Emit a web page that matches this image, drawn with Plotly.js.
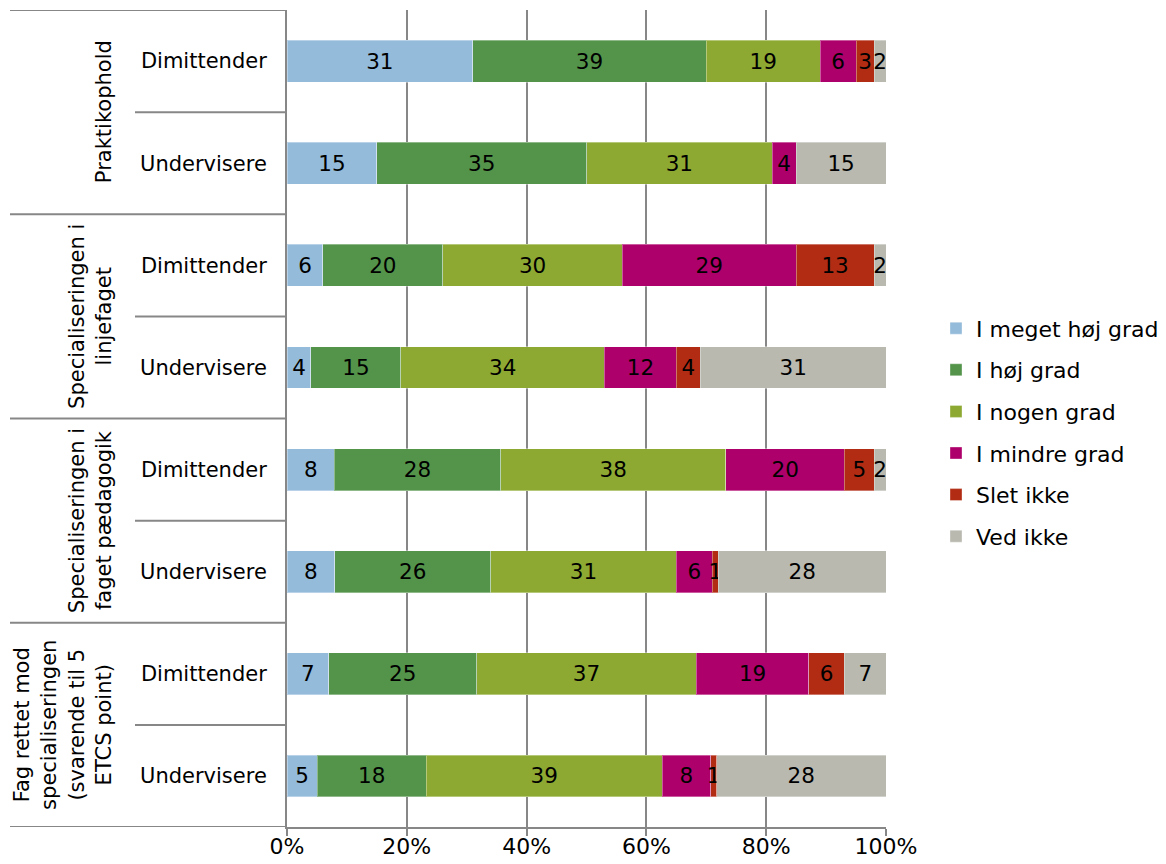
<!DOCTYPE html>
<html>
<head>
<meta charset="utf-8">
<script src="https://cdn.plot.ly/plotly-3.0.1.min.js"></script>
<style>
  html, body { margin: 0; padding: 0; background: #fff; }
  #chart { width: 1166px; height: 864px; }
</style>
</head>
<body>
<div id="chart"></div>
<script>
// bars top to bottom
const groups = ["Praktikophold", "Specialiseringen i<br>linjefaget",
  "Specialiseringen i<br>faget pædagogik",
  "Fag rettet mod<br>specialiseringen<br>(svarende til 5<br>ETCS point)"];
const rowLabels = ["Dimittender", "Undervisere", "Dimittender", "Undervisere",
  "Dimittender", "Undervisere", "Dimittender", "Undervisere"];

const seriesNames = ["I meget høj grad", "I høj grad", "I nogen grad",
  "I mindre grad", "Slet ikke", "Ved ikke"];
const colors = ["#94bbda", "#53944a", "#8ea932", "#ae006a", "#b22c14", "#b9b9b0"];

const megetHoej = [31, 15, 6, 4, 8, 8, 7, 5];
const hoej      = [39, 35, 20, 15, 28, 26, 25, 18];
const nogen     = [19, 31, 30, 34, 38, 31, 37, 39];
const mindre    = [6, 4, 29, 12, 20, 6, 19, 8];
const sletIkke  = [3, 0, 13, 4, 5, 1, 6, 1];
const vedIkke   = [2, 15, 2, 31, 2, 28, 7, 28];

const allSeries = [megetHoej, hoej, nogen, mindre, sletIkke, vedIkke];
const rows = rowLabels.map((_, i) => i);

const FONT = "DejaVu Sans, Verdana, sans-serif";
const GRID = "#878787";

const data = allSeries.map(function (vals, k) {
  return {
    type: "bar",
    orientation: "h",
    name: seriesNames[k],
    legendgroup: "g" + k,
    x: vals,
    y: rows,
    text: vals.map(v => v > 0 ? String(v) : ""),
    textposition: "inside",
    insidetextanchor: "middle",
    constraintext: "none",
    textangle: 0,
    textfont: { family: FONT, size: 21.5, color: "#000" },
    marker: { color: colors[k], line: { color: "rgba(255,255,255,0.35)", width: 1 } },
    hoverinfo: "name+x"
  };
});

// plot area: x 287..886, y 10..827
const L = 287, W = 599;
const px = p => (p - L) / W;

const shapes = [];
[-0.5, 1.5, 3.5, 5.5, 7.5].forEach(function (y) {
  shapes.push({ type: "line", xref: "paper", yref: "y", x0: px(10), x1: 0, y0: y, y1: y,
    line: { color: GRID, width: 2 } });
});
[0.5, 2.5, 4.5, 6.5].forEach(function (y) {
  shapes.push({ type: "line", xref: "paper", yref: "y", x0: px(135), x1: 0, y0: y, y1: y,
    line: { color: GRID, width: 2 } });
});

const annotations = groups.map(function (g, i) {
  return {
    text: g, xref: "paper", yref: "y", x: px(118), y: i * 2 + 0.5,
    xanchor: "right", yanchor: "middle", textangle: -90, showarrow: false,
    align: "center", font: { family: FONT, size: 21, color: "#000" }
  };
});

const layout = {
  width: 1166, height: 864,
  margin: { l: 287, r: 280, t: 10, b: 37, autoexpand: false },
  paper_bgcolor: "#fff", plot_bgcolor: "#fff",
  barmode: "stack",
  barnorm: "percent",
  bargap: 0.59,
  font: { family: FONT, size: 21, color: "#000" },
  xaxis: {
    range: [0, 100], dtick: 20, ticksuffix: "%",
    tickfont: { family: FONT, size: 22, color: "#000" },
    showgrid: true, gridcolor: GRID, gridwidth: 2,
    showline: true, linecolor: GRID, linewidth: 2,
    ticks: "outside", ticklen: 7, tickwidth: 2, tickcolor: GRID,
    ticklabelstandoff: -8,
    zeroline: false, fixedrange: true
  },
  yaxis: {
    range: [7.5, -0.5],
    tickvals: rows, ticktext: rowLabels,
    tickfont: { family: FONT, size: 21, color: "#000" },
    ticks: "", ticklabelstandoff: 14,
    showgrid: false, zeroline: false,
    showline: true, linecolor: GRID, linewidth: 2,
    fixedrange: true
  },
  legend: {
    x: px(936), xanchor: "left", y: 0.483, yanchor: "middle",
    font: { family: FONT, size: 22, color: "#000" },
    tracegroupgap: 10, traceorder: "grouped"
  },
  shapes: shapes,
  annotations: annotations
};

Plotly.newPlot("chart", data, layout, { displayModeBar: false, staticPlot: true });
</script>
</body>
</html>
